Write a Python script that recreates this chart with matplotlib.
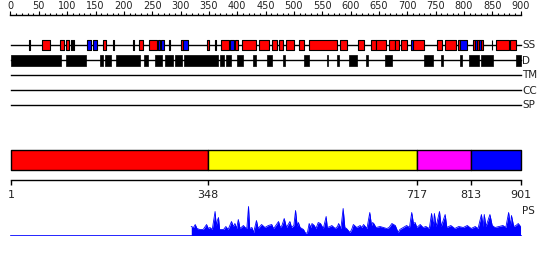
import matplotlib
matplotlib.use("Agg")
import matplotlib.pyplot as plt

# secondary structure elements (residue start, end)
ss_helix = [(56, 70), (87, 95), (98, 104), (164, 169), (227, 234), (245, 258), (279, 282),
            (301, 305), (347, 351), (371, 385), (397, 402), (408, 433), (439, 457), (461, 471),
            (473, 481), (486, 500), (509, 518), (526, 577), (581, 593), (614, 624), (637, 645),
            (645, 663), (668, 678), (678, 685), (689, 700), (711, 730), (752, 761), (766, 787),
            (790, 794), (817, 820), (823, 826), (830, 834), (856, 880), (881, 892)]
ss_strand = [(135, 142), (145, 152), (260, 264), (265, 270), (305, 313), (387, 394),
             (706, 711), (794, 806), (820, 823), (826, 830)]
ss_ticks = [33, 107, 111, 181, 217, 361, 849]

# disorder regions
disorder = [(1, 89), (98, 134), (158, 164), (167, 177), (186, 228), (236, 242), (255, 267),
            (273, 287), (290, 302), (307, 367), (370, 377), (380, 389), (400, 411), (428, 433),
            (453, 461), (480, 485), (518, 526), (559, 561), (576, 580), (597, 611), (627, 630),
            (661, 674), (730, 745), (760, 764), (793, 796), (809, 827), (830, 851), (892, 901)]

# domain blocks
dom_bounds = [1, 348, 717, 813, 901]
dom_colors = ["#ff0000", "#ffff00", "#ff00ff", "#0000ff"]

# PS profile (residue, score)
ps_res = [319, 323, 326, 329, 334, 340, 346, 349, 352, 356, 361, 363, 365, 367, 369, 376,
          380, 384, 390, 393, 396, 399, 402, 405, 411, 414, 417, 420, 422, 426, 429, 431,
          434, 437, 443, 449, 455, 461, 464, 467, 473, 476, 479, 483, 487, 493, 496, 500,
          503, 506, 508, 511, 514, 517, 521, 524, 527, 530, 532, 536, 539, 543, 547, 552,
          557, 559, 564, 567, 573, 577, 579, 583, 587, 590, 593, 599, 602, 605, 611, 617,
          620, 623, 629, 634, 637, 639, 641, 645, 652, 658, 664, 668, 673, 679, 684, 687,
          693, 699, 704, 708, 711, 714, 717, 723, 728, 733, 739, 743, 746, 748, 751, 757,
          760, 767, 770, 777, 784, 791, 799, 806, 813, 820, 825, 831, 834, 836, 839, 846,
          850, 855, 862, 869, 874, 879, 882, 884, 888, 892, 896, 900]
ps_val = [9, 8, 11, 7, 6, 6, 11, 7, 8, 6, 24, 10, 15, 18, 6, 6,
          9, 6, 14, 9, 12, 7, 16, 7, 10, 8, 7, 29, 7, 8, 3, 8,
          15, 7, 11, 8, 10, 11, 7, 9, 14, 8, 10, 17, 8, 14, 8, 10,
          25, 9, 13, 8, 7, 6, 2, 3, 12, 8, 12, 10, 7, 13, 12, 7,
          19, 8, 9, 10, 7, 9, 12, 7, 27, 8, 7, 3, 6, 11, 8, 10,
          8, 11, 7, 23, 10, 13, 12, 8, 9, 8, 7, 8, 12, 10, 3, 6,
          8, 10, 8, 23, 12, 13, 8, 11, 8, 9, 7, 22, 9, 22, 9, 24,
          9, 21, 8, 10, 7, 9, 8, 10, 7, 9, 7, 21, 9, 21, 9, 21,
          10, 8, 9, 10, 8, 23, 10, 20, 9, 10, 12, 9]

ruler_major = list(range(0, 901, 50))
ruler_minor = list(range(0, 901, 10))
track_labels = ["SS", "D", "TM", "CC", "SP"]
track_rows = [45, 60, 75, 90, 105]

PX = 0.5667  # pixels per residue
X0 = -10.5 / PX
X1 = (550 - 10.5) / PX


def main() -> None:
    fig = plt.figure(figsize=(5.5, 2.6), dpi=100)
    ax = fig.add_axes([0, 0, 1, 1])
    ax.set_xlim(X0, X1)
    ax.set_ylim(260, 0)
    ax.axis("off")

    # ruler
    ax.plot([0, 900], [15, 15], color="black", lw=1)
    ax.vlines(ruler_minor, 13, 15, color="black", lw=0.8)
    ax.vlines(ruler_major, 11, 15, color="black", lw=0.8)
    for v in ruler_major:
        ax.text(v, 6, str(v), ha="center", va="center", fontsize=7, color="#222222")

    # track lines and labels
    for lab, y in zip(track_labels, track_rows):
        ax.plot([1, 901], [y, y], color="black", lw=1, zorder=1)
        ax.text(903, y + 0.5, lab, ha="left", va="center", fontsize=7.5, color="#222222")

    # secondary structure
    ax.broken_barh([(s, e - s) for s, e in ss_helix], (40, 10), facecolors="#ff0000",
                   edgecolors="black", linewidth=0.8, zorder=2)
    ax.broken_barh([(s, e - s) for s, e in ss_strand], (40, 10), facecolors="#0000ff",
                   edgecolors="black", linewidth=0.8, zorder=2)
    ax.broken_barh([(t, 1.5) for t in ss_ticks], (40, 10), facecolors="black",
                   edgecolors="black", linewidth=0.8, zorder=2)

    # disorder
    ax.broken_barh([(s, e - s) for s, e in disorder], (55, 11), facecolors="black",
                   edgecolors="black", linewidth=0.5, zorder=2)

    # domain bar
    for i, c in enumerate(dom_colors):
        ax.broken_barh([(dom_bounds[i], dom_bounds[i + 1] - dom_bounds[i])], (150, 20),
                       facecolors=c, edgecolors="black", linewidth=1)
    ax.plot([1, 901], [180, 180], color="black", lw=1)
    ax.vlines(dom_bounds, 180, 185, color="black", lw=1)
    for b in dom_bounds:
        ax.text(b, 195, str(b), ha="center", va="center", fontsize=8, color="#222222")

    # PS profile
    ax_ps = fig.add_axes([0, (260 - 235.5) / 260, 1, 30 / 260])
    ax_ps.set_xlim(X0, X1)
    ax_ps.set_ylim(0, 30)
    ax_ps.axis("off")
    ax_ps.plot([1, 901], [0, 0], color="#0000ff", lw=1.2)
    ax_ps.fill_between(ps_res, 0, ps_val, color="#0000ff", lw=0)
    ax_ps.plot(ps_res, ps_val, color="#0000ff", lw=0.6)
    ax.text(903, 211, "PS", ha="left", va="center", fontsize=7.5, color="#222222")

    fig.savefig("out.png", dpi=100)


if __name__ == "__main__":
    main()
